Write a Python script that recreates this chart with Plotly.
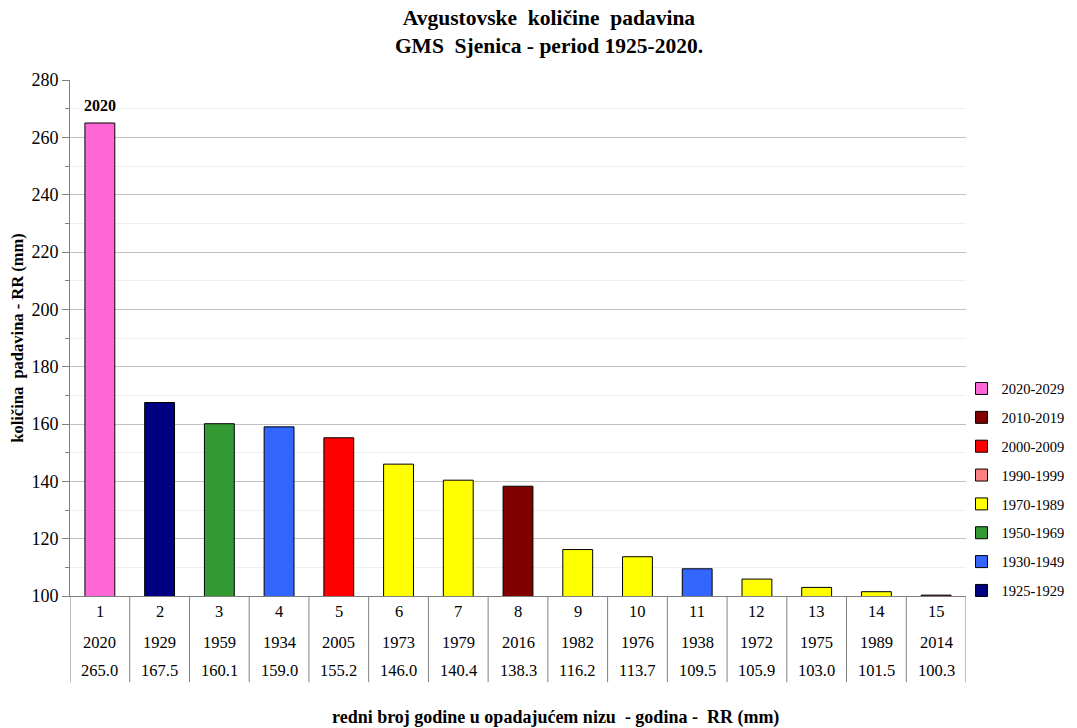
import plotly.graph_objects as go

ranks = list(range(1, 16))
years = [2020, 1929, 1959, 1934, 2005, 1973, 1979, 2016, 1982, 1976, 1938, 1972, 1975, 1989, 2014]
rr_mm = [265.0, 167.5, 160.1, 159.0, 155.2, 146.0, 140.4, 138.3, 116.2, 113.7, 109.5, 105.9, 103.0, 101.5, 100.3]

group_labels = ["2020-2029", "2010-2019", "2000-2009", "1990-1999",
                "1970-1989", "1950-1969", "1930-1949", "1925-1929"]
group_start = [2020, 2010, 2000, 1990, 1970, 1950, 1930, 1925]
group_end = [2029, 2019, 2009, 1999, 1989, 1969, 1949, 1929]
group_colors = ["#FF66D6", "#800000", "#FF0000", "#FF8080",
                "#FFFF00", "#339933", "#3366FF", "#000080"]

FONT = "Liberation Serif"
NB = "\u00a0"  # keeps the double spaces of the original texts

fig = go.Figure()

# one trace per period so the legend lists every period, even an empty one
for lab, col, a, b in zip(group_labels, group_colors, group_start, group_end):
    xs = [r for r, y in zip(ranks, years) if a <= y <= b] or [None]
    ys = [v for v, y in zip(rr_mm, years) if a <= y <= b] or [None]
    fig.add_trace(go.Bar(
        x=xs, y=ys, name=lab, legendgroup=lab,
        marker=dict(color=col, line=dict(color="black", width=1)),
        width=0.5,
    ))

annotations = []
shapes = []

# label above the highest bar
annotations.append(dict(
    x=ranks[0], y=rr_mm[0], xref="x", yref="y",
    text="<b>%d</b>" % years[0], showarrow=False, yshift=18,
    yanchor="middle",
    font=dict(family=FONT, size=16, color="black"),
))

# data table under the axis
row_y = [-0.031, -0.091, -0.145]
for r, yr, v in zip(ranks, years, rr_mm):
    for txt, yy in zip([str(r), str(yr), "%.1f" % v], row_y):
        annotations.append(dict(
            x=r, y=yy, xref="x", yref="paper", text=txt, showarrow=False,
            xanchor="center", yanchor="middle",
            font=dict(family=FONT, size=16.5, color="black"),
        ))
for k in range(len(ranks) + 1):
    shapes.append(dict(
        type="line", xref="x", yref="paper",
        x0=k + 0.5, x1=k + 0.5, y0=0, y1=-0.167,
        line=dict(color="#808080", width=1),
    ))

annotations.append(dict(
    x=0.5424, y=-0.235, xref="paper", yref="paper",
    text=f"<b>redni broj godine u opadajućem nizu {NB}- godina - {NB}RR (mm)</b>",
    showarrow=False, xanchor="center", yanchor="middle",
    font=dict(family=FONT, size=18, color="black"),
))

# the page adds an 8px body margin, so the margins are reduced by 8px on top/left
fig.update_layout(
    width=1077, height=728,
    paper_bgcolor="white", plot_bgcolor="white",
    margin=dict(l=62, r=119, t=72, b=140, autoexpand=False),
    barmode="overlay",
    title=dict(
        text=f"<b>Avgustovske {NB}količine {NB}padavina<br>GMS {NB}Sjenica - period 1925-2020.</b>",
        x=0.5023, xanchor="center", xref="container",
        y=0.977, yanchor="top", yref="container",
        font=dict(family=FONT, size=21.5, color="black"),
    ),
    legend=dict(
        x=0.995, xanchor="left", y=0.433, yanchor="top",
        font=dict(family=FONT, size=14.5, color="black"),
        tracegroupgap=7, itemwidth=30, bgcolor="rgba(0,0,0,0)",
    ),
    xaxis=dict(
        range=[0.5, 15.5], showticklabels=False, ticks="",
        showgrid=False, zeroline=False, automargin=False,
        showline=True, linecolor="#808080", linewidth=1,
    ),
    yaxis=dict(
        range=[100, 280], dtick=20, tick0=100, automargin=False,
        ticks="outside", ticklen=7, tickcolor="#808080",
        showline=True, linecolor="#808080", linewidth=1,
        gridcolor="#c0c0c0", gridwidth=1, zeroline=False,
        tickfont=dict(family=FONT, size=18, color="black"),
        minor=dict(dtick=10, ticks="outside", ticklen=4, tickcolor="#808080",
                   showgrid=True, gridcolor="#efefef"),
        title=dict(text=f"<b>količina {NB}padavina - RR (mm)</b>",
                   font=dict(family=FONT, size=16.5, color="black"), standoff=9),
    ),
    annotations=annotations,
    shapes=shapes,
)

fig.write_html("out.html")
